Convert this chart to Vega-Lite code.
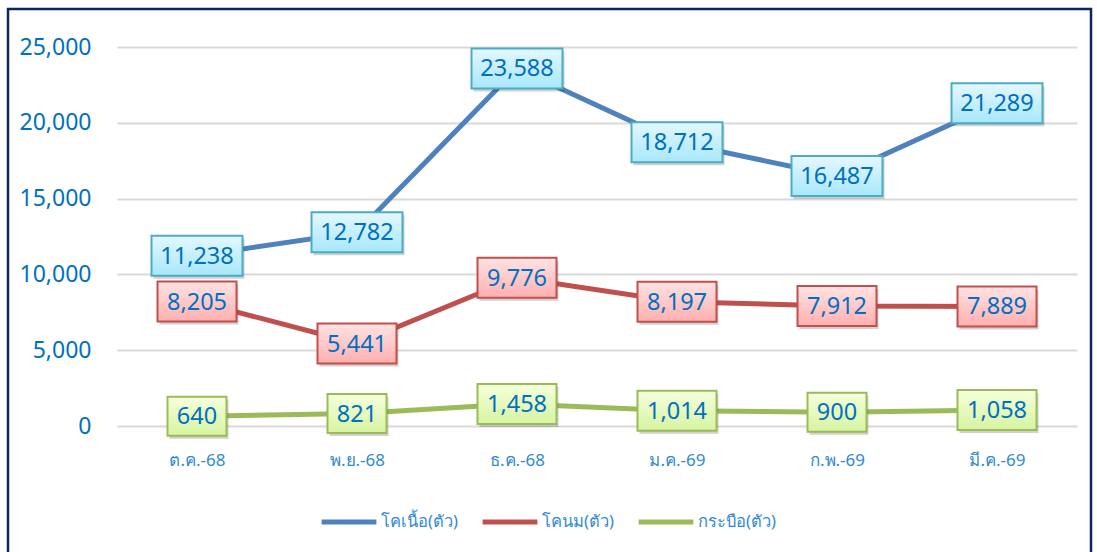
{
  "$schema": "https://vega.github.io/schema/vega-lite/v6.json",
  "width": 1083,
  "height": 546,
  "autosize": {"type": "none"},
  "padding": {"left": 8, "top": 9, "right": 6, "bottom": 0},
  "background": "white",
  "config": {
    "view": {"stroke": "#0E2560", "strokeWidth": 2.5},
    "font": "Noto Sans"
  },
  "data": {
    "values": [
      {"month": "ต.ค.-68", "series": "โคเนื้อ(ตัว)", "value": 11238},
      {"month": "พ.ย.-68", "series": "โคเนื้อ(ตัว)", "value": 12782},
      {"month": "ธ.ค.-68", "series": "โคเนื้อ(ตัว)", "value": 23588},
      {"month": "ม.ค.-69", "series": "โคเนื้อ(ตัว)", "value": 18712},
      {"month": "ก.พ.-69", "series": "โคเนื้อ(ตัว)", "value": 16487},
      {"month": "มี.ค.-69", "series": "โคเนื้อ(ตัว)", "value": 21289},
      {"month": "ต.ค.-68", "series": "โคนม(ตัว)", "value": 8205},
      {"month": "พ.ย.-68", "series": "โคนม(ตัว)", "value": 5441},
      {"month": "ธ.ค.-68", "series": "โคนม(ตัว)", "value": 9776},
      {"month": "ม.ค.-69", "series": "โคนม(ตัว)", "value": 8197},
      {"month": "ก.พ.-69", "series": "โคนม(ตัว)", "value": 7912},
      {"month": "มี.ค.-69", "series": "โคนม(ตัว)", "value": 7889},
      {"month": "ต.ค.-68", "series": "กระบือ(ตัว)", "value": 640},
      {"month": "พ.ย.-68", "series": "กระบือ(ตัว)", "value": 821},
      {"month": "ธ.ค.-68", "series": "กระบือ(ตัว)", "value": 1458},
      {"month": "ม.ค.-69", "series": "กระบือ(ตัว)", "value": 1014},
      {"month": "ก.พ.-69", "series": "กระบือ(ตัว)", "value": 900},
      {"month": "มี.ค.-69", "series": "กระบือ(ตัว)", "value": 1058}
    ]
  },
  "encoding": {
    "x": {
      "field": "month",
      "type": "nominal",
      "sort": ["ต.ค.-68", "พ.ย.-68", "ธ.ค.-68", "ม.ค.-69", "ก.พ.-69", "มี.ค.-69"],
      "scale": {"range": [109, 1069]},
      "axis": {
        "title": null,
        "orient": "bottom",
        "offset": -103,
        "domain": false,
        "ticks": false,
        "tickSize": 0,
        "labelPadding": 0,
        "labelAngle": 0,
        "labelBaseline": "top",
        "labelFontSize": 17,
        "labelColor": "#2F8AD4",
        "labelFont": "Noto Sans"
      }
    },
    "y": {
      "field": "value",
      "type": "quantitative",
      "scale": {"domain": [0, 25000], "range": [417, 38], "nice": false},
      "axis": {
        "title": null,
        "values": [0, 5000, 10000, 15000, 20000, 25000],
        "format": ",.0f",
        "offset": -83,
        "domain": false,
        "ticks": false,
        "tickSize": 0,
        "labelPadding": 0,
        "labelFontSize": 23,
        "labelColor": "#0070C0",
        "labelFont": "Noto Sans",
        "grid": true,
        "gridColor": "#D9D9D9",
        "gridWidth": 2
      }
    }
  },
  "layer": [
    {
      "mark": {"type": "line", "strokeWidth": 5, "strokeCap": "round"},
      "encoding": {
        "color": {
          "field": "series",
          "type": "nominal",
          "scale": {
            "domain": ["โคเนื้อ(ตัว)", "โคนม(ตัว)", "กระบือ(ตัว)"],
            "range": ["#4F81BD", "#C0504D", "#9BBB59"]
          },
          "legend": {
            "title": null,
            "orient": "none",
            "direction": "horizontal",
            "legendX": 311,
            "legendY": 483,
            "padding": 0,
            "columnPadding": 14,
            "symbolType": "stroke",
            "symbolSize": 3000,
            "symbolStrokeWidth": 5,
            "symbolOffset": 0,
            "labelOffset": 2,
            "labelFontSize": 16.5,
            "labelColor": "#2F8AD4",
            "labelFont": "Noto Sans"
          }
        }
      }
    },
    {
      "mark": {"type": "point", "filled": true, "size": 10000, "opacity": 0.18, "fill": "#000000", "strokeWidth": 0, "xOffset": 2, "yOffset": 3},
      "encoding": {
        "shape": {
          "condition": [
            {"test": "datum.value >= 10000", "value": "M-0.91,-0.4H0.91V0.4H-0.91Z"},
            {"test": "datum.value >= 1000", "value": "M-0.79,-0.4H0.79V0.4H-0.79Z"}
          ],
          "value": "M-0.59,-0.39H0.59V0.39H-0.59Z"
        }
      }
    },
    {
      "transform": [{"filter": "datum.series === 'โคเนื้อ(ตัว)'"}],
      "mark": {
        "type": "point", "filled": true, "size": 10000, "opacity": 1,
        "fill": {"gradient": "linear", "x1": 0, "y1": 0, "x2": 0, "y2": 1,
                 "stops": [{"offset": 0, "color": "#E4F8FF"}, {"offset": 1, "color": "#A8E7FA"}]},
        "stroke": "#4BACC6", "strokeWidth": 2
      },
      "encoding": {
        "shape": {
          "condition": [
            {"test": "datum.value >= 10000", "value": "M-0.91,-0.4H0.91V0.4H-0.91Z"},
            {"test": "datum.value >= 1000", "value": "M-0.79,-0.4H0.79V0.4H-0.79Z"}
          ],
          "value": "M-0.59,-0.39H0.59V0.39H-0.59Z"
        }
      }
    },
    {
      "transform": [{"filter": "datum.series === 'โคนม(ตัว)'"}],
      "mark": {
        "type": "point", "filled": true, "size": 10000, "opacity": 1,
        "fill": {"gradient": "linear", "x1": 0, "y1": 0, "x2": 0, "y2": 1,
                 "stops": [{"offset": 0, "color": "#FFE3E3"}, {"offset": 1, "color": "#FFAFAF"}]},
        "stroke": "#C0504D", "strokeWidth": 2
      },
      "encoding": {
        "shape": {
          "condition": [
            {"test": "datum.value >= 10000", "value": "M-0.91,-0.4H0.91V0.4H-0.91Z"},
            {"test": "datum.value >= 1000", "value": "M-0.79,-0.4H0.79V0.4H-0.79Z"}
          ],
          "value": "M-0.59,-0.39H0.59V0.39H-0.59Z"
        }
      }
    },
    {
      "transform": [{"filter": "datum.series === 'กระบือ(ตัว)'"}],
      "mark": {
        "type": "point", "filled": true, "size": 10000, "opacity": 1,
        "fill": {"gradient": "linear", "x1": 0, "y1": 0, "x2": 0, "y2": 1,
                 "stops": [{"offset": 0, "color": "#F6FFDC"}, {"offset": 1, "color": "#D6F4A0"}]},
        "stroke": "#9BBB59", "strokeWidth": 2
      },
      "encoding": {
        "shape": {
          "condition": [
            {"test": "datum.value >= 10000", "value": "M-0.91,-0.4H0.91V0.4H-0.91Z"},
            {"test": "datum.value >= 1000", "value": "M-0.79,-0.4H0.79V0.4H-0.79Z"}
          ],
          "value": "M-0.59,-0.39H0.59V0.39H-0.59Z"
        }
      }
    },
    {
      "mark": {"type": "text", "fontSize": 23.5, "color": "#0070C0", "font": "Noto Sans", "align": "center", "baseline": "middle", "dy": 1},
      "encoding": {
        "text": {"field": "value", "type": "quantitative", "format": ","}
      }
    }
  ]
}
